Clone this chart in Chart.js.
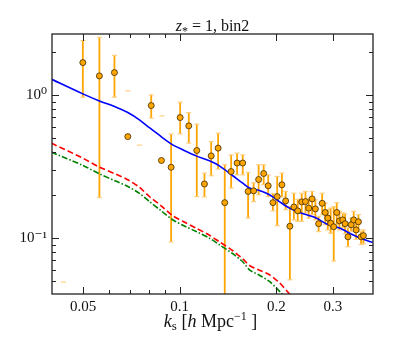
<!DOCTYPE html>
<html>
<head>
<meta charset="utf-8">
<script src="https://cdn.jsdelivr.net/npm/chart.js@4.4.1/dist/chart.umd.min.js"></script>
<style>
  html, body { margin: 0; padding: 0; background: #fff; }
  canvas { display: block; }
</style>
</head>
<body>
<canvas id="c" width="415" height="346"></canvas>
<script>
// measured power, with error bars (lo / hi ends)
const kData = [0.0499, 0.0562, 0.0626, 0.0689, 0.0815, 0.0877, 0.0940, 0.1003, 0.1067, 0.1130,
  0.1194, 0.1253, 0.1317, 0.1381, 0.1446, 0.1509, 0.1571, 0.1633, 0.1699, 0.1761,
  0.1826, 0.1886, 0.1951, 0.2012, 0.2081, 0.2138, 0.2204, 0.2268, 0.2331, 0.2399,
  0.2464, 0.2522, 0.2585, 0.2646, 0.2708, 0.2778, 0.2838, 0.2892, 0.2952, 0.3018,
  0.3084, 0.3144, 0.3219, 0.3275, 0.3342, 0.3420, 0.3483, 0.3544, 0.3603, 0.3673, 0.3735];
const pData = [1.690, 1.364, 1.439, 0.513, 0.846, 0.349, 0.313, 0.697, 0.610, 0.410,
  0.239, 0.376, 0.426, 0.177, 0.292, 0.335, 0.335, 0.212, 0.214, 0.257,
  0.283, 0.232, 0.177, 0.195, 0.236, 0.182, 0.121, 0.165, 0.155, 0.179,
  0.180, 0.162, 0.188, 0.160, 0.126, 0.175, 0.151, 0.138, 0.127, 0.120,
  0.151, 0.132, 0.134, 0.126, 0.102, 0.124, 0.134, 0.114, 0.130, 0.102, 0.104];
const pLo = [0.968, 0.192, 0.968, null, 0.691, null, 0.094, 0.536, 0.462, 0.195,
  0.194, 0.273, 0.304, 0.010, 0.224, 0.277, 0.277, 0.138, 0.180, 0.201,
  0.236, 0.195, 0.155, 0.122, 0.194, 0.158, 0.051, 0.134, 0.131, 0.131,
  0.150, 0.138, 0.146, 0.134, 0.111, 0.146, 0.124, 0.114, 0.108, 0.069,
  0.124, 0.114, 0.118, 0.107, 0.087, 0.111, 0.114, 0.098, 0.114, 0.090, 0.091];
const pHi = [2.409, 2.544, 1.898, null, 1.005, null, 0.534, 0.894, 0.756, 0.627,
  0.285, 0.474, 0.542, 0.326, 0.382, 0.393, 0.382, 0.288, 0.244, 0.326,
  0.326, 0.277, 0.205, 0.270, 0.285, 0.212, 0.166, 0.206, 0.187, 0.206,
  0.212, 0.190, 0.212, 0.185, 0.142, 0.206, 0.176, 0.158, 0.162, 0.166,
  0.177, 0.154, 0.150, 0.148, 0.118, 0.138, 0.154, 0.131, 0.146, 0.111, 0.114];

// points below zero: only the upper cap shows on the log axis
const kUpper = [0.0434, 0.0689, 0.0749, 0.0880];
const pUpper = [0.0492, 1.072, 0.447, 0.7165];

// model curves
const kModel = [0.0398, 0.0499, 0.0562, 0.0634, 0.0689, 0.0749, 0.0804, 0.0875, 0.0951, 0.1022,
  0.1125, 0.1238, 0.1329, 0.1463, 0.1571, 0.1649, 0.1771, 0.1903, 0.2044, 0.2196,
  0.2360, 0.2660, 0.2858, 0.3145, 0.3458, 0.3716, 0.3993];
const pTotal = [1.294, 1.021, 0.912, 0.824, 0.756, 0.672, 0.593, 0.513, 0.449, 0.415,
  0.376, 0.347, 0.320, 0.273, 0.242, 0.224, 0.215, 0.201, 0.180, 0.162,
  0.151, 0.138, 0.126, 0.1175, 0.1055, 0.0984, 0.0931];
const pRed = [0.4617, 0.3625, 0.3137, 0.2793, 0.2557, 0.2266, 0.1954, 0.1682, 0.1432, 0.1310,
  0.1174, 0.1046, 0.0942, 0.0815, 0.0716, 0.0643, 0.0595, 0.0554, 0.0487, 0.0408, 0.0353];
const pGreen = [0.3995, 0.3224, 0.2816, 0.2495, 0.2296, 0.2057, 0.1803, 0.1552, 0.1343, 0.1229,
  0.1112, 0.0997, 0.0898, 0.0777, 0.0683, 0.0600, 0.0549, 0.0497, 0.0425, 0.0364];

// axes
const xTicks = [0.05, 0.06, 0.07, 0.08, 0.09, 0.1, 0.2, 0.3];
const xMajor = [0.05, 0.1, 0.2, 0.3];
const yTicks = [0.05, 0.06, 0.07, 0.08, 0.09, 0.1, 0.2, 0.3, 0.4, 0.5, 0.6, 0.7, 0.8, 0.9, 1, 2];
const yMajor = [0.1, 1];
const yLabels = { 0.1: "10\u207B\u00B9", 1: "10\u2070" };

const SERIF = "'Liberation Serif', 'DejaVu Serif', serif";
const ORANGE = "#ffa500";
const CAP = "#ffcf80";

function pts(ks, vs){
  return vs.map((v, i) => ({ x: ks[i], y: v }));
}

// error bars drawn under the markers
const errorBars = {
  id: "errorBars",
  beforeDatasetsDraw(chart){
    const { ctx, chartArea: a, scales: { x, y } } = chart;
    ctx.save();
    ctx.beginPath();
    ctx.rect(a.left, a.top, a.right - a.left, a.bottom - a.top);
    ctx.clip();
    const cap = (px, py) => {
      ctx.strokeStyle = CAP;
      ctx.lineWidth = 1.2;
      ctx.beginPath();
      ctx.moveTo(px - 2.5, py);
      ctx.lineTo(px + 2.5, py);
      ctx.stroke();
    };
    kData.forEach((k, i) => {
      if (pLo[i] == null) return;
      const px = x.getPixelForValue(k);
      const y1 = y.getPixelForValue(pHi[i]);
      const y2 = y.getPixelForValue(pLo[i]);
      ctx.strokeStyle = ORANGE;
      ctx.lineWidth = 1.8;
      ctx.beginPath();
      ctx.moveTo(px, y1);
      ctx.lineTo(px, y2);
      ctx.stroke();
      cap(px, y1);
      cap(px, y2);
    });
    kUpper.forEach((k, i) => cap(x.getPixelForValue(k), y.getPixelForValue(pUpper[i])));
    ctx.restore();
  }
};

// matplotlib style frame with inward ticks, plus title and axis label
const frame = {
  id: "frame",
  afterDraw(chart){
    const { ctx, chartArea: a, scales: { x, y } } = chart;
    ctx.save();
    ctx.strokeStyle = "#222";
    ctx.lineWidth = 1;
    xTicks.forEach(v => {
      const px = Math.round(x.getPixelForValue(v)) + 0.5;
      const len = xMajor.includes(v) ? 7 : 4;
      ctx.beginPath();
      ctx.moveTo(px, a.bottom); ctx.lineTo(px, a.bottom - len);
      ctx.moveTo(px, a.top); ctx.lineTo(px, a.top + len);
      ctx.stroke();
    });
    yTicks.forEach(v => {
      const py = Math.round(y.getPixelForValue(v)) + 0.5;
      const len = yMajor.includes(v) ? 7 : 4;
      ctx.beginPath();
      ctx.moveTo(a.left, py); ctx.lineTo(a.left + len, py);
      ctx.moveTo(a.right, py); ctx.lineTo(a.right - len, py);
      ctx.stroke();
    });
    ctx.lineWidth = 1.3;
    ctx.strokeRect(a.left, a.top, a.right - a.left, a.bottom - a.top);

    const cx = (a.left + a.right) / 2;
    drawRich(ctx, [
      { t: "z", f: "italic 16px " + SERIF },
      { t: "*", f: "12px " + SERIF, dy: 4 },
      { t: " = 1, bin2", f: "16px " + SERIF }
    ], cx, 31);
    drawRich(ctx, [
      { t: "k", f: "italic 18px " + SERIF },
      { t: "s", f: "13px " + SERIF, dy: 3 },
      { t: " [", f: "18px " + SERIF },
      { t: "h", f: "italic 18px " + SERIF },
      { t: " Mpc", f: "18px " + SERIF },
      { t: "\u22121", f: "12px " + SERIF, dy: -7 },
      { t: " ]", f: "18px " + SERIF }
    ], cx - 2, 327);
    ctx.restore();
  }
};

function drawRich(ctx, parts, cx, base){
  let w = 0;
  parts.forEach(p => { ctx.font = p.f; p.w = ctx.measureText(p.t).width; w += p.w; });
  let xx = cx - w / 2;
  ctx.fillStyle = "#111";
  ctx.textBaseline = "alphabetic";
  ctx.textAlign = "left";
  parts.forEach(p => {
    ctx.font = p.f;
    ctx.fillText(p.t, xx, base + (p.dy || 0));
    xx += p.w;
  });
}

new Chart(document.getElementById("c"), {
  type: "scatter",
  data: {
    datasets: [
      {
        data: pts(kData, pData),
        backgroundColor: ORANGE,
        borderColor: "#3a2a00",
        borderWidth: 0.8,
        pointRadius: 3,
        showLine: false
      },
      {
        data: pts(kModel, pTotal),
        borderColor: "#0000ff",
        borderWidth: 1.6,
        pointRadius: 0,
        showLine: true,
        tension: 0.3
      },
      {
        data: pts(kModel, pRed),
        borderColor: "#ff0000",
        borderWidth: 1.6,
        borderDash: [6, 3],
        pointRadius: 0,
        showLine: true,
        tension: 0.3
      },
      {
        data: pts(kModel, pGreen),
        borderColor: "#008000",
        borderWidth: 1.6,
        borderDash: [6, 2, 1.5, 2],
        pointRadius: 0,
        showLine: true,
        tension: 0.3
      }
    ]
  },
  options: {
    responsive: false,
    animation: false,
    layout: { padding: { top: 34, right: 42, left: 0, bottom: 0 } },
    plugins: { legend: { display: false }, tooltip: { enabled: false } },
    scales: {
      x: {
        type: "logarithmic",
        min: 0.04,
        max: 0.4,
        grid: { display: false, drawTicks: false },
        border: { display: false },
        afterBuildTicks: s => { s.ticks = xTicks.map(v => ({ value: v })); },
        afterFit: s => { s.height = 52; },
        ticks: {
          autoSkip: false,
          maxRotation: 0,
          padding: 4,
          color: "#111",
          font: { family: SERIF, size: 15 },
          callback: v => xMajor.includes(v) ? String(v) : ""
        }
      },
      y: {
        type: "logarithmic",
        min: 0.0406,
        max: 2.68,
        grid: { display: false, drawTicks: false },
        border: { display: false },
        afterBuildTicks: s => { s.ticks = yTicks.map(v => ({ value: v })); },
        afterFit: s => { s.width = 52; },
        ticks: {
          autoSkip: false,
          padding: 5,
          color: "#111",
          font: { family: SERIF, size: 15 },
          callback: v => yLabels[v] || ""
        }
      }
    }
  },
  plugins: [errorBars, frame]
});
</script>
</body>
</html>
